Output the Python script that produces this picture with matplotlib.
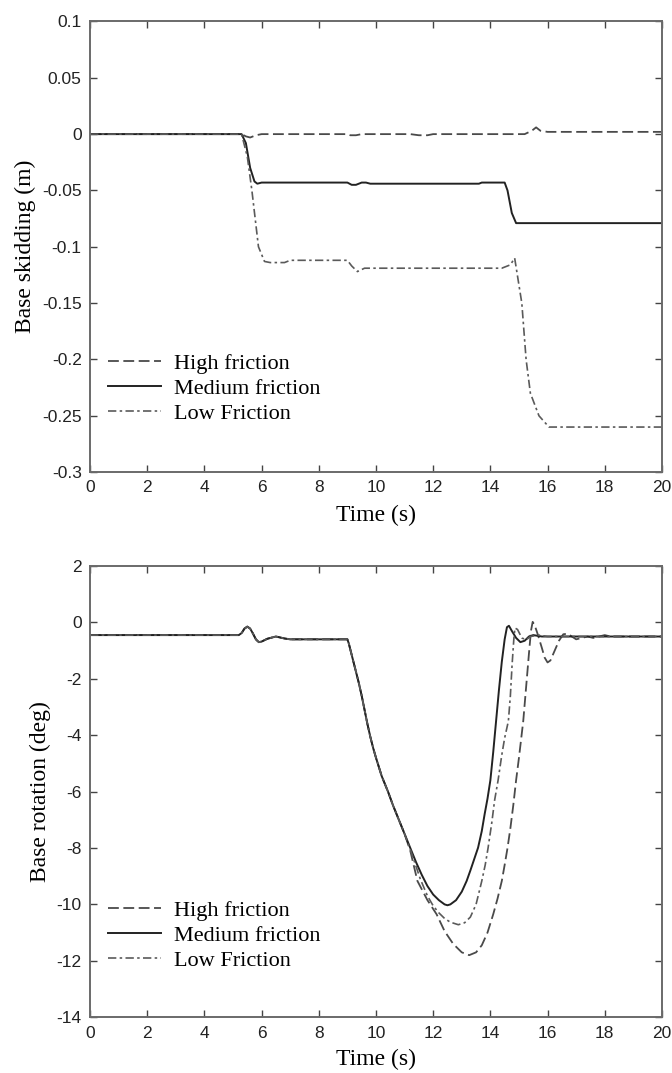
import matplotlib
matplotlib.use('Agg')
import matplotlib.pyplot as plt

plt.rcParams['axes.unicode_minus'] = False

# ---- base skidding (m)
tHighSkid = [0, 5.3, 5.45, 5.6, 5.8, 6.0, 9.0, 9.1, 9.3, 9.5, 11.2, 11.5, 11.8, 12.0,
             15.2, 15.45, 15.6, 15.75, 16.0, 20]
vHighSkid = [0, 0, -0.002, -0.003, -0.001, 0, 0, -0.001, -0.001, 0, 0, -0.001, -0.001, 0,
             0, 0.003, 0.006, 0.003, 0.002, 0.002]
tMedSkid = [0, 5.3, 5.45, 5.6, 5.75, 5.85, 6.0, 9.0, 9.15, 9.3, 9.5, 9.65, 9.8, 13.6, 13.7,
            14.5, 14.6, 14.75, 14.9, 15.0, 20]
vMedSkid = [0, 0, -0.008, -0.03, -0.042, -0.044, -0.043, -0.043, -0.045, -0.045, -0.043,
            -0.043, -0.044, -0.044, -0.043, -0.043, -0.05, -0.07, -0.079, -0.079, -0.079]
tLowSkid = [0, 5.3, 5.5, 5.66, 5.89, 6.1, 6.3, 6.8, 7.0, 9.0, 9.15, 9.35, 9.6, 14.4, 14.7,
            14.85, 15.1, 15.25, 15.4, 15.7, 16.05, 20]
vLowSkid = [0, 0, -0.02, -0.05, -0.1, -0.113, -0.114, -0.114, -0.112, -0.112, -0.117, -0.122,
            -0.119, -0.119, -0.116, -0.110, -0.15, -0.2, -0.23, -0.25, -0.26, -0.26]

# ---- base rotation (deg): shared early part (0 - 11 s)
tRotEarly = [0, 5.2, 5.3, 5.4, 5.5, 5.6, 5.7, 5.8, 5.9, 6.0, 6.2, 6.5, 6.8, 7.0, 9.0, 9.05,
             9.1, 9.2, 9.3, 9.4, 9.5, 9.6, 9.7, 9.8, 9.9, 10.0, 10.2, 10.42, 10.6, 10.8, 11.0]
vRotEarly = [-0.45, -0.45, -0.38, -0.22, -0.15, -0.22, -0.4, -0.6, -0.7, -0.68, -0.58, -0.5,
             -0.57, -0.6, -0.6, -0.75, -0.95, -1.35, -1.75, -2.15, -2.6, -3.1, -3.6, -4.05,
             -4.45, -4.8, -5.45, -6.0, -6.5, -7.0, -7.5]

tMedLate = [11.2, 11.4, 11.6, 11.8, 12.0, 12.2, 12.4, 12.5, 12.6, 12.8, 13.0, 13.17, 13.3,
            13.45, 13.57, 13.7, 13.8, 13.9, 14.0, 14.1, 14.2, 14.3, 14.4, 14.5, 14.58, 14.65,
            14.75, 14.9, 15.05, 15.2, 15.35, 15.5, 15.8, 20]
vMedLate = [-8.0, -8.5, -8.95, -9.35, -9.65, -9.85, -10.0, -10.03, -10.0, -9.85, -9.55, -9.17,
            -8.8, -8.35, -7.99, -7.4, -6.8, -6.25, -5.6, -4.6, -3.5, -2.4, -1.4, -0.6, -0.17,
            -0.12, -0.3, -0.55, -0.7, -0.65, -0.5, -0.45, -0.5, -0.5]
tLowLate = [11.2, 11.4, 11.55, 11.8, 12.0, 12.2, 12.4, 12.6, 12.88, 13.1, 13.3, 13.5, 13.7,
            13.82, 13.92, 14.05, 14.15, 14.27, 14.4, 14.5, 14.63, 14.7, 14.76, 14.82, 14.86,
            14.95, 15.1, 15.25, 15.4, 15.7, 16.0, 20]
vLowLate = [-8.05, -8.65, -9.1, -9.7, -10.05, -10.3, -10.5, -10.63, -10.72, -10.65, -10.45,
            -10.0, -9.17, -8.6, -8.0, -7.1, -6.3, -5.6, -4.7, -4.1, -3.5, -2.6, -1.5, -0.6,
            -0.2, -0.25, -0.55, -0.62, -0.5, -0.45, -0.5, -0.5]
tHighLate = [11.2, 11.45, 11.8, 12.12, 12.4, 12.7, 13.0, 13.26, 13.5, 13.7, 13.9, 14.1, 14.25,
             14.4, 14.5, 14.6, 14.7, 14.8, 14.9, 15.0, 15.15, 15.25, 15.35, 15.42, 15.48,
             15.55, 15.65, 15.8, 15.9, 16.0, 16.1, 16.25, 16.4, 16.55, 16.7, 16.85, 17.0,
             17.2, 17.4, 17.6, 17.8, 18.0, 18.2, 20]
vHighLate = [-8.1, -9.17, -9.85, -10.35, -10.95, -11.4, -11.7, -11.8, -11.7, -11.45, -11.0,
             -10.35, -9.8, -9.17, -8.6, -8.0, -7.3, -6.5, -5.6, -4.8, -3.5, -2.3, -1.1, -0.3,
             0.02, -0.1, -0.4, -0.9, -1.25, -1.42, -1.35, -1.0, -0.65, -0.42, -0.4, -0.5, -0.6,
             -0.55, -0.5, -0.55, -0.5, -0.45, -0.5, -0.5]

labels = ['High friction', 'Medium friction', 'Low Friction']
xticks = list(range(0, 21, 2))
skidTicks = [0.1, 0.05, 0, -0.05, -0.1, -0.15, -0.2, -0.25, -0.3]
skidTickLabels = ['0.1', '0.05', '0', '-0.05', '-0.1', '-0.15', '-0.2', '-0.25', '-0.3']
rotTicks = list(range(2, -15, -2))


def styleAxes(ax):
    for s in ax.spines.values():
        s.set_color('#6a6a6a')
        s.set_linewidth(1.4)
    ax.tick_params(direction='in', length=5, width=1.0, color='#444444',
                   top=True, right=True, labelsize=12.5, pad=6)
    for lab in ax.get_xticklabels() + ax.get_yticklabels():
        lab.set_family('Liberation Sans')
        lab.set_color('#222222')


def drawSeries(ax, series, anchor):
    styles = [
        dict(color='#4a4a4a', lw=1.3, dashes=(6, 2.5)),
        dict(color='#222222', lw=1.4, ls='-'),
        dict(color='#5a5a5a', lw=1.2, dashes=(5, 2, 1.5, 2)),
    ]
    for (t, v), lab, st in zip(series, labels, styles):
        ax.plot(t, v, label=lab, **st)
    ax.legend(loc='lower left', bbox_to_anchor=anchor, frameon=False,
              handlelength=2.35, handletextpad=0.6, labelspacing=0.2,
              prop={'family': 'Liberation Serif', 'size': 16})


fig = plt.figure(figsize=(6.72, 10.73), dpi=100)

ax1 = fig.add_axes([0.134, 0.560, 0.851, 0.420])
drawSeries(ax1, [(tHighSkid, vHighSkid), (tMedSkid, vMedSkid), (tLowSkid, vLowSkid)],
           (-0.003, 0.062))
ax1.set_xlim(0, 20)
ax1.set_ylim(-0.3, 0.1)
ax1.set_xticks(xticks)
ax1.set_yticks(skidTicks)
ax1.set_yticklabels(skidTickLabels)
ax1.set_xlabel('Time (s)', family='Liberation Serif', fontsize=17, labelpad=7)
ax1.set_ylabel('Base skidding (m)', family='Liberation Serif', fontsize=17, labelpad=4)
styleAxes(ax1)

ax2 = fig.add_axes([0.134, 0.052, 0.851, 0.4205])
drawSeries(ax2, [(tRotEarly + tHighLate, vRotEarly + vHighLate),
                 (tRotEarly + tMedLate, vRotEarly + vMedLate),
                 (tRotEarly + tLowLate, vRotEarly + vLowLate)],
           (-0.003, 0.058))
ax2.set_xlim(0, 20)
ax2.set_ylim(-14, 2)
ax2.set_xticks(xticks)
ax2.set_yticks(rotTicks)
ax2.set_xlabel('Time (s)', family='Liberation Serif', fontsize=17, labelpad=6)
ax2.set_ylabel('Base rotation (deg)', family='Liberation Serif', fontsize=17, labelpad=4)
styleAxes(ax2)

fig.savefig('out.png', dpi=100)
